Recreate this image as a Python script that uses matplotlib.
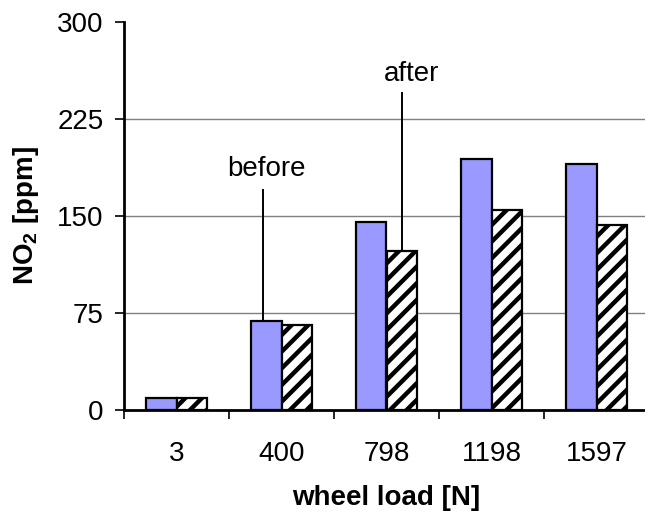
import matplotlib.pyplot as plt
import numpy as np

plt.rcParams["font.family"] = ["Liberation Sans", "DejaVu Sans"]
plt.rcParams["mathtext.fontset"] = "custom"
plt.rcParams["mathtext.rm"] = "Liberation Sans"
plt.rcParams["mathtext.bf"] = "Liberation Sans:bold"
plt.rcParams["hatch.linewidth"] = 3.2

# Data
loads = ["3", "400", "798", "1198", "1597"]
before = [9, 69, 145, 194, 190]
after = [9, 66, 123, 155, 143]
y_ticks = [0, 75, 150, 225, 300]

fig = plt.figure(figsize=(6.45, 5.11), dpi=100)
ax = fig.add_axes([124 / 645, (511 - 410) / 511, 525 / 645, 388 / 511])

x = np.arange(len(loads))
w = 0.29
ax.bar(x - w / 2, before, w, color="#9999ff", edgecolor="black", linewidth=1.6, zorder=3)
ax.bar(x + w / 2, after, w, color="white", edgecolor="black", linewidth=1.6,
       hatch="//", zorder=3)

ax.set_xlim(-0.5, len(loads) - 0.5)
ax.set_ylim(0, 300)
ax.set_yticks(y_ticks)
ax.set_yticklabels([str(t) for t in y_ticks], fontsize=20)
for t in y_ticks[1:-1]:
    ax.axhline(t, color="#808080", linewidth=1, zorder=1)

# category ticks at group boundaries, labels at group centres
ax.set_xticks(np.arange(len(loads) + 1) - 0.5)
ax.set_xticklabels([])
ax.set_xticks(x, minor=True)
ax.set_xticklabels(loads, minor=True, fontsize=20)
ax.tick_params(axis="x", which="minor", length=0, pad=22)
ax.tick_params(axis="x", which="major", length=6.5, width=1.2, direction="out")
ax.tick_params(axis="y", length=6.5, width=1.2, direction="out", pad=8)

for side in ["top", "right"]:
    ax.spines[side].set_visible(False)
for side in ["left", "bottom"]:
    ax.spines[side].set_linewidth(2)

ax.set_xlabel("wheel load [N]", fontsize=20, fontweight="bold", labelpad=13)
ax.set_ylabel("NO$_\\mathbf{2}$ [ppm]", fontsize=20, fontweight="bold", labelpad=12)

# callout lines and labels
bx = 1 - w / 2 - 0.03
ax.plot([bx, bx], [before[1], 170], color="black", lw=1.4, zorder=4)
ax.text(bx + 0.03, 181, "before", ha="center", va="baseline", fontsize=20)
axx = 2 + w / 2
ax.plot([axx, axx], [after[2], 245], color="black", lw=1.4, zorder=4)
ax.text(axx + 0.09, 254.5, "after", ha="center", va="baseline", fontsize=20)

fig.savefig("out.png", dpi=100)
